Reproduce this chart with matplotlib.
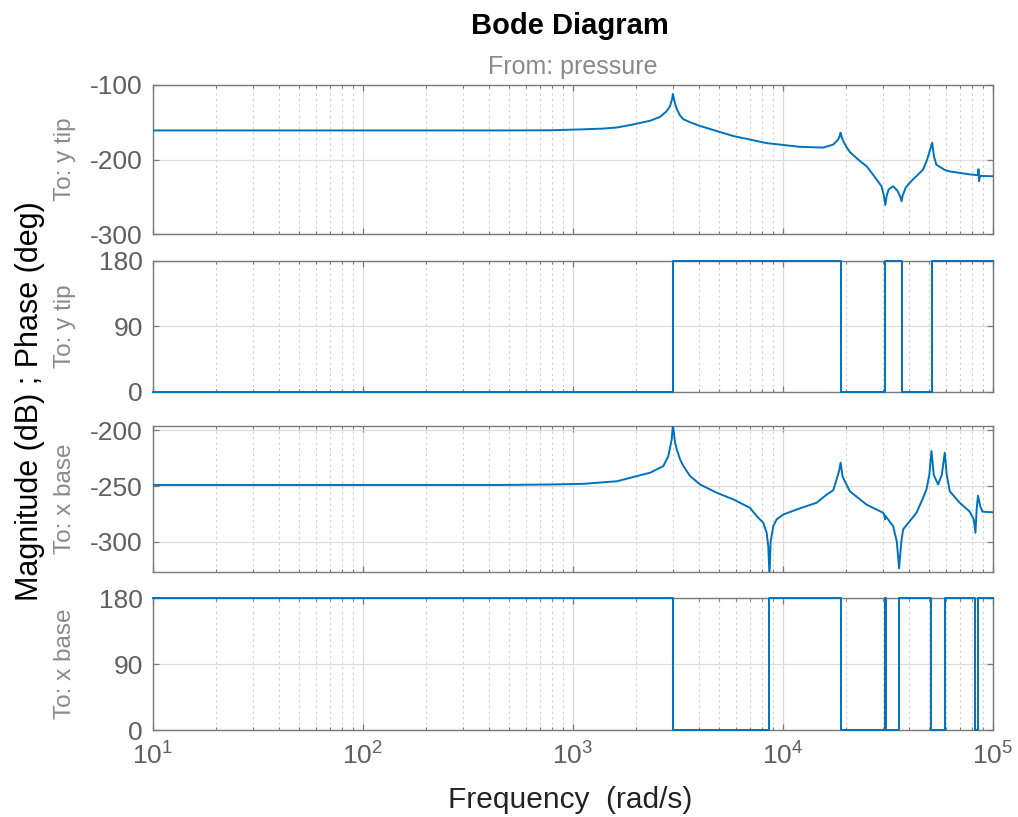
import matplotlib
matplotlib.use("Agg")
import matplotlib.pyplot as plt
import numpy as np
from matplotlib.ticker import LogLocator, NullFormatter

plt.rcParams['font.family'] = ['Liberation Sans', 'DejaVu Sans']
plt.rcParams['mathtext.fontset'] = 'custom'
plt.rcParams['mathtext.rm'] = 'Liberation Sans'
plt.rcParams['axes.unicode_minus'] = False

# ---------------- data ----------------
# Magnitude, To: y tip
freq_mag_ytip = [10, 452, 782, 1122, 1400, 1623, 1940, 2337, 2608, 2805, 2909, 2973, 3000,
                 3062, 3131, 3246, 3365, 3622, 4041, 5818, 8387, 12080, 15590, 17400,
                 18380, 18700, 18870, 19100, 19410, 20100, 20890, 23300, 25080, 26880,
                 28200, 29550, 30300, 30800, 31300, 32000, 33560, 35200, 36300, 36800,
                 37300, 38500, 40300, 46620, 48740, 51500, 52500, 53930, 59120, 62450,
                 69670, 77730, 85200, 85600, 86100, 87000, 100000]
mag_ytip = [-161, -161, -160.8, -159.5, -158.5, -157, -153, -148, -142.7, -135, -128, -119, -112,
            -123.5, -132.4, -141, -146, -150, -155, -168.5, -178, -183, -184, -180,
            -173, -168, -164, -170, -175, -183, -190, -202, -209, -220,
            -228, -236, -248, -261, -248, -240, -236, -242, -250, -256,
            -248, -238, -231, -213.5, -200, -177.5, -196, -207, -214, -216,
            -218, -220, -221, -213, -229, -222, -222.5]

# Phase, To: y tip (step values)
freq_ph_ytip = [10, 3000, 18870, 30800, 36800, 51500, 100000]
ph_ytip = [0, 180, 0, 180, 0, 180, 180]

# Magnitude, To: x base
freq_mag_xbase = [10, 452, 782, 1122, 1623, 2337, 2704, 2853, 2962, 3000, 3073, 3131, 3246,
                  3365, 3622, 4041, 4851, 5818, 6986, 7517, 8080, 8387, 8536, 8650, 8760,
                  9018, 9358, 10060, 12080, 14500, 16190, 17400, 18060, 18580, 18870,
                  19270, 19560, 20890, 25080, 30080, 30500, 30700, 30900, 33560, 34950,
                  35830, 36720, 37450, 43360, 46620, 48380, 49890, 51100, 52400, 54950,
                  57200, 59120, 60410, 62450, 69670, 77730, 81220, 82760, 83920, 85130,
                  87210, 89330, 100000]
mag_xbase = [-249, -249, -248.6, -248, -245.7, -238, -232, -223, -208, -195, -211, -217, -226,
             -232, -241, -248.6, -256, -262, -269.6, -277, -283, -292, -304, -330, -300,
             -286, -280, -275.6, -270, -265, -257.7, -253.8, -244, -236, -229,
             -241, -244, -254.7, -266.7, -274, -276, -280, -277, -286, -300,
             -324, -300, -289, -274, -260.6, -253, -240, -218.5, -240, -248.6,
             -240, -220, -240, -254.7, -265, -273, -280, -292, -270, -258.6,
             -268, -273, -273.6]

# Phase, To: x base (step values)
freq_ph_xbase = [10, 3000, 8650, 18870, 30600, 30900, 35830, 51100, 59120, 82760, 85130, 100000]
ph_xbase = [180, 0, 180, 0, 180, 0, 180, 0, 180, 0, 180, 180]

row_labels = ["To: y tip", "To: y tip", "To: x base", "To: x base"]
ylims = [(-300, -100), (0, 180), (-327, -196), (0, 180)]
yticks = [[-300, -200, -100], [0, 90, 180], [-300, -250, -200], [0, 90, 180]]

# ---------------- figure ----------------
W, H = 1018, 817
fig = plt.figure(figsize=(W / 100, H / 100), dpi=100)

left, right = 152.7 / W, 992.7 / W
boxes_px = [(85, 234), (260.7, 391.7), (426, 571.7), (598.3, 730)]

line_c = '#0072BD'
spine_c = '#7a7a7a'
tick_c = '#5f5f5f'
lab_c = '#8a8a8a'

series = [
    (freq_mag_ytip, mag_ytip, False),
    (freq_ph_ytip, ph_ytip, True),
    (freq_mag_xbase, mag_xbase, False),
    (freq_ph_xbase, ph_xbase, True),
]

axes = []
for i, ((top, bot), (fx, fy, is_phase)) in enumerate(zip(boxes_px, series)):
    ax = fig.add_axes([left, 1 - bot / H, right - left, (bot - top) / H])
    axes.append(ax)
    ax.set_xscale('log')
    ax.set_xlim(10, 1e5)
    ax.set_ylim(*ylims[i])
    ax.set_yticks(yticks[i])
    if is_phase:
        ax.plot(fx, fy, color=line_c, lw=1.4, drawstyle='steps-post',
                clip_on=False, zorder=5)
    else:
        ax.plot(fx, fy, color=line_c, lw=1.4, zorder=5)
    ax.xaxis.set_major_locator(LogLocator(base=10, numticks=10))
    ax.xaxis.set_minor_locator(LogLocator(base=10, subs=np.arange(2, 10), numticks=20))
    ax.xaxis.set_minor_formatter(NullFormatter())
    ax.grid(True, which='major', color='#dcdcdc', lw=0.9, ls='-')
    ax.grid(True, which='minor', axis='x', color='#d0d0d0', lw=0.8, ls=(0, (2, 3)))
    ax.set_axisbelow(True)
    for s in ax.spines.values():
        s.set_color(spine_c)
        s.set_linewidth(1.0)
    ax.tick_params(which='both', direction='in', top=True, right=True,
                   color=spine_c, labelcolor=tick_c, labelsize=19, pad=7)
    ax.tick_params(which='major', length=4.5, width=0.9)
    ax.tick_params(which='minor', length=2.5, width=0.8)
    if i < 3:
        ax.tick_params(labelbottom=False)
    cy = 1 - (top + bot) / 2 / H
    fig.text(65 / W, cy, row_labels[i], rotation=90, ha='center', va='center',
             color=lab_c, fontsize=17.5)

axes[-1].tick_params(axis='x', pad=9)

fig.text(570 / W, 1 - 26 / H, "Bode Diagram", ha='center', va='center',
         fontsize=21, fontweight='bold', color='black')
fig.text(572.7 / W, 1 - 67 / H, "From: pressure", ha='center', va='center',
         fontsize=18, color=lab_c)
fig.text(30 / W, 1 - 401 / H, "Magnitude (dB) ; Phase (deg)", rotation=90,
         ha='center', va='center', fontsize=22, color='black')
fig.text(570 / W, 1 - 800 / H, "Frequency  (rad/s)", ha='center', va='center',
         fontsize=21.5, color='#222222')

fig.savefig("out.png", dpi=100, facecolor='white')
